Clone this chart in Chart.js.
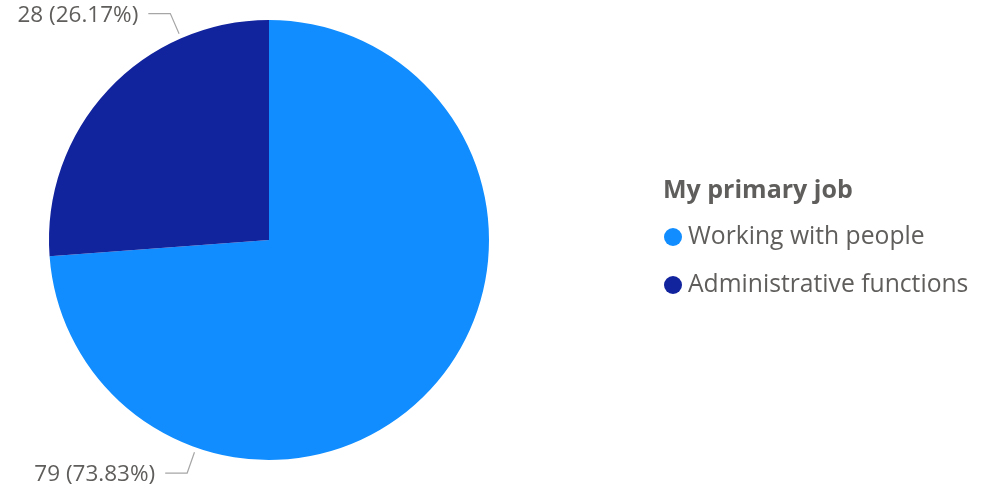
<!DOCTYPE html>
<html>
<head>
<meta charset="utf-8">
<script src="https://cdn.jsdelivr.net/npm/chart.js@4.4.1/dist/chart.umd.min.js"></script>
<style>
  html, body { margin: 0; padding: 0; background: #ffffff; }
  #wrap { width: 986px; height: 490px; position: relative; }
</style>
</head>
<body>
<div id="wrap"><canvas id="c" width="986" height="490"></canvas></div>
<script>
const legendTitle = 'My primary job';
const categories = ['Working with people', 'Administrative functions'];
const counts = [79, 28];
const colors = ['#118DFF', '#12239E'];

const FONT = '"Open Sans", "Noto Sans", sans-serif';
const TEXT_COLOR = '#605E5C';

// Outside labels with elbow leader lines, anchored on each slice's arc
const outsideLabels = {
  id: 'outsideLabels',
  afterDatasetsDraw(chart) {
    const ctx = chart.ctx;
    const meta = chart.getDatasetMeta(0);
    const total = counts.reduce((a, b) => a + b, 0);
    ctx.save();
    ctx.font = '22.5px ' + FONT;
    ctx.textBaseline = 'middle';
    meta.data.forEach((arc, i) => {
      const { x, y, startAngle, endAngle, outerRadius } = arc.getProps(['x', 'y', 'startAngle', 'endAngle', 'outerRadius'], true);
      const a = startAngle + (endAngle - startAngle) * 0.75;
      const p1 = { x: x + Math.cos(a) * (outerRadius + 5), y: y + Math.sin(a) * (outerRadius + 5) };
      const p2 = { x: x + Math.cos(a) * (outerRadius + 27), y: y + Math.sin(a) * (outerRadius + 27) };
      const left = Math.cos(a) < 0;
      const p3 = { x: p2.x + (left ? -22 : 22), y: p2.y };
      ctx.strokeStyle = '#A6A6A6';
      ctx.lineWidth = 1.2;
      ctx.beginPath();
      ctx.moveTo(p1.x, p1.y);
      ctx.lineTo(p2.x, p2.y);
      ctx.lineTo(p3.x, p3.y);
      ctx.stroke();
      const pct = (counts[i] / total * 100).toFixed(2);
      ctx.fillStyle = TEXT_COLOR;
      ctx.textAlign = left ? 'right' : 'left';
      ctx.fillText(counts[i] + ' (' + pct + '%)', p3.x + (left ? -10 : 10), p3.y + 2);
    });
    ctx.restore();
  }
};

// Legend block on the right: bold title plus circle markers
const sideLegend = {
  id: 'sideLegend',
  afterDraw(chart) {
    const ctx = chart.ctx;
    const x0 = 663;
    ctx.save();
    ctx.textBaseline = 'middle';
    ctx.textAlign = 'left';
    ctx.fillStyle = TEXT_COLOR;
    ctx.font = 'bold 25px ' + FONT;
    ctx.fillText(legendTitle, x0, 191);
    ctx.font = '24.7px ' + FONT;
    categories.forEach((label, i) => {
      const cy = 237 + i * 48;
      ctx.fillStyle = colors[i];
      ctx.beginPath();
      ctx.arc(x0 + 10, cy, 9, 0, Math.PI * 2);
      ctx.fill();
      ctx.fillStyle = TEXT_COLOR;
      ctx.fillText(label, x0 + 25, cy);
    });
    ctx.restore();
  }
};

new Chart(document.getElementById('c'), {
  type: 'pie',
  data: {
    labels: categories,
    datasets: [{
      data: counts,
      backgroundColor: colors,
      borderWidth: 0
    }]
  },
  options: {
    responsive: false,
    animation: false,
    layout: { padding: { left: 49, right: 497, top: 20, bottom: 30 } },
    plugins: {
      legend: { display: false },
      tooltip: { enabled: false }
    }
  },
  plugins: [outsideLabels, sideLegend]
});
</script>
</body>
</html>
